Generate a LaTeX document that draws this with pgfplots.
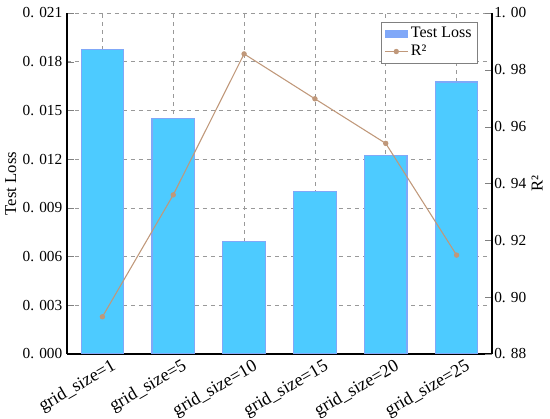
\documentclass[border=0pt]{standalone}
\usepackage{fontspec}
\setmainfont{Liberation Serif}
\usepackage{pgfplots}
\pgfplotsset{compat=1.18}

\definecolor{barfill}{RGB}{77,203,255}
\definecolor{baredge}{RGB}{128,168,248}
\definecolor{rline}{RGB}{192,152,122}

\begin{document}
\begin{tikzpicture}[font=\fontsize{11.5}{13}\selectfont]
\begin{axis}[
    width=318.75pt, height=255.75pt,
    scale only axis,
    xmin=-0.5, xmax=5.5,
    ymin=0, ymax=0.021,
    scaled y ticks=false,
    xtick={0,1,2,3,4,5},
    xticklabels={grid\_size=1, grid\_size=5, grid\_size=10, grid\_size=15, grid\_size=20, grid\_size=25},
    x tick label style={xshift=6pt, yshift=-3pt, rotate=30, anchor=north east, inner sep=0pt, font=\fontsize{13.5}{14}\selectfont},
    ytick={0,0.003,0.006,0.009,0.012,0.015,0.018,0.021},
    yticklabels={0. 000,0. 003,0. 006,0. 009,0. 012,0. 015,0. 018,0. 021},
    axis y line*=left,
    axis x line*=bottom,
    tick align=inside,
    major tick length=5pt,
    grid=major,
    major grid style={dashed, gray!80, line width=0.5pt},
    ylabel={Test Loss},
    ylabel style={yshift=-2pt, font=\fontsize{12.5}{14}\selectfont},
    axis line style={line width=0.8pt},
]
\addplot[ybar, bar width=0.6, fill=barfill, draw=baredge, line width=0.8pt] coordinates {
    (0,0.01878) (1,0.01453) (2,0.00692) (3,0.00998) (4,0.01225) (5,0.01675)
};
\coordinate (bl) at (rel axis cs:0,0);
\coordinate (tr) at (rel axis cs:1,1);
\end{axis}
\begin{axis}[
    width=318.75pt, height=255.75pt,
    scale only axis,
    xmin=-0.5, xmax=5.5,
    ymin=0.88, ymax=1.00,
    axis y line*=right,
    axis x line=none,
    tick align=inside,
    major tick length=5pt,
    ytick={0.88,0.90,0.92,0.94,0.96,0.98,1.00},
    yticklabels={0. 88,0. 90,0. 92,0. 94,0. 96,0. 98,1. 00},
    yticklabel style={inner sep=1.5pt},
    ylabel={R²},
    ylabel shift=-1pt,
    ylabel style={font=\fontsize{12.5}{14}\selectfont},
    axis line style={line width=0.8pt},
    legend style={at={(0.965,0.974)}, anchor=north east, draw=gray, font=\fontsize{12}{13}\selectfont, row sep=0pt, inner sep=2pt},
    legend cell align=left,
]
\addlegendimage{area legend, fill=baredge, draw=baredge}
\addlegendentry{Test Loss}
\addplot[color=rline, line width=0.8pt, mark=*, mark size=1.6pt, mark options={fill=rline}] coordinates {
    (0,0.8931) (1,0.936) (2,0.9856) (3,0.9698) (4,0.9541) (5,0.9148)
};
\addlegendentry{R²}
\end{axis}
\pgfresetboundingbox
\path (bl) ++(-50.25pt,-48.75pt) coordinate (pbl);
\path (tr) ++(43.5pt,9.75pt) coordinate (ptr);
\path[use as bounding box] (pbl) rectangle (ptr);
\end{tikzpicture}
\end{document}
